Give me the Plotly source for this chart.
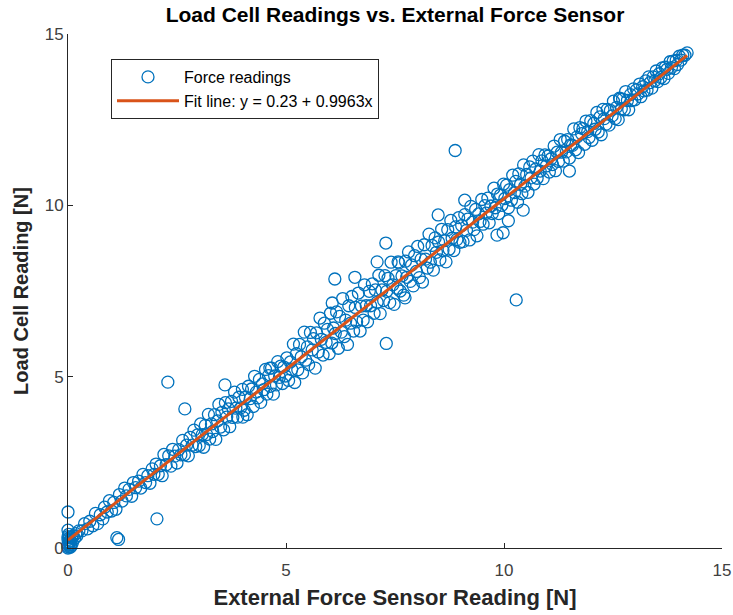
import plotly.graph_objects as go

# ---- data: (sensor reading, load cell reading) ----
force_points = [
    # cluster near the origin
    (0, 0.0), (0, 0.04), (0.01, 0.08), (0, 0.12), (0.02, 0.18), (0, 0.25), (0.03, 0.3), (0.05, 0.02),
    (0.06, 0.1), (0.04, 0.22), (0, 0.52), (0, 1.05), (0.08, 0.3), (0.1, 0.15), (0.12, 0.35), (0.02, 0.4),
    (0.15, 0.28), (0.18, 0.42), (0.2, 0.35), (0.25, 0.5), (0, 0.33), (0.07, 0.05), (0.03, 0.14),
    # 0.3 - 2
    (0.32, 0.5), (0.38, 0.71), (0.45, 0.56), (0.5, 0.78), (0.57, 0.65), (0.63, 1.01), (0.68, 0.71),
    (0.74, 0.97), (0.8, 0.85), (0.84, 1.19), (0.9, 1.05), (0.95, 1.38), (1.0, 1.08), (1.05, 1.33),
    (1.12, 0.3), (1.16, 0.25), (1.1, 1.13), (1.18, 1.56), (1.24, 1.37), (1.3, 1.75), (1.34, 1.52),
    (1.4, 1.71), (1.46, 1.51), (1.5, 1.91), (1.55, 1.76), (1.62, 1.95), (1.67, 1.75), (1.72, 2.15),
    (1.78, 1.91), (1.83, 2.11), (1.88, 1.89), (1.93, 2.31), (1.97, 2.15), (2.04, 0.85),
    # 2 - 3
    (2.02, 2.45), (2.07, 2.15), (2.12, 2.4), (2.16, 2.11), (2.2, 2.73), (2.25, 2.43), (2.29, 4.84),
    (2.31, 2.69), (2.36, 2.39), (2.4, 2.88), (2.45, 2.68), (2.5, 2.48), (2.54, 2.87), (2.59, 2.72),
    (2.63, 3.14), (2.68, 4.06), (2.67, 2.72), (2.72, 3.0), (2.76, 2.69), (2.8, 3.23), (2.85, 3.0),
    (2.89, 3.44), (2.93, 2.96), (2.97, 3.3),
    # 3 - 5
    (3.01, 2.99), (3.04, 3.62), (3.08, 3.31), (3.11, 2.94), (3.15, 3.58), (3.18, 3.31), (3.22, 3.9),
    (3.25, 3.18), (3.29, 3.62), (3.32, 3.4), (3.36, 3.89), (3.39, 3.17), (3.43, 3.71), (3.46, 4.19),
    (3.5, 3.53), (3.53, 3.96), (3.57, 3.45), (3.6, 4.76), (3.61, 4.24), (3.64, 3.82), (3.68, 4.06),
    (3.71, 3.54), (3.75, 4.28), (3.78, 3.81), (3.82, 4.55), (3.85, 4.08), (3.89, 3.82), (3.92, 4.4),
    (3.96, 4.09), (4.01, 3.82), (4.0, 4.63), (4.04, 4.02), (4.07, 4.4), (4.11, 3.89), (4.14, 4.72),
    (4.18, 4.36), (4.21, 4.64), (4.25, 4.13), (4.28, 5.01), (4.32, 4.55), (4.35, 4.38), (4.39, 4.92),
    (4.42, 4.25), (4.46, 4.79), (4.49, 4.62), (4.53, 5.21), (4.56, 4.49), (4.6, 5.03), (4.63, 5.25),
    (4.64, 4.72), (4.67, 5.25), (4.71, 4.49), (4.74, 5.02), (4.78, 4.76), (4.81, 5.44), (4.85, 4.98),
    (4.88, 5.31), (4.92, 4.8), (4.95, 5.28), (4.99, 5.02),
    # 5 - 7
    (5.02, 5.55), (5.06, 4.89), (5.1, 5.43), (5.13, 5.21), (5.17, 5.95), (5.2, 4.83), (5.24, 5.67),
    (5.27, 5.2), (5.31, 5.94), (5.35, 5.58), (5.38, 5.11), (5.42, 6.3), (5.45, 5.48), (5.49, 5.87),
    (5.52, 5.35), (5.56, 6.29), (5.6, 5.78), (5.63, 6.11), (5.67, 5.25), (5.7, 6.28), (5.74, 5.72),
    (5.78, 6.71), (5.81, 6.09), (5.85, 5.63), (5.88, 6.56), (5.92, 6.0), (5.95, 6.38), (5.99, 5.67),
    (6.02, 6.85), (6.06, 7.15), (6.05, 5.98), (6.09, 6.42), (6.12, 7.85), (6.13, 6.26), (6.16, 6.89),
    (6.2, 5.83), (6.23, 6.76), (6.27, 6.3), (6.3, 7.28), (6.34, 6.17), (6.37, 6.65), (6.41, 5.94),
    (6.44, 7.07), (6.48, 6.56), (6.51, 7.34), (6.55, 6.33), (6.58, 7.9), (6.59, 7.02), (6.62, 6.6),
    (6.66, 7.44), (6.7, 6.33), (6.73, 7.06), (6.77, 6.65), (6.8, 7.68), (6.84, 7.07), (6.87, 6.6),
    (6.91, 7.49), (6.94, 7.07), (6.98, 7.71),
    # 7 - 9
    (7.02, 6.85), (7.05, 7.53), (7.09, 8.35), (7.09, 7.17), (7.13, 7.96), (7.16, 6.84), (7.2, 7.53),
    (7.24, 7.22), (7.27, 7.95), (7.29, 8.9), (7.3, 5.97), (7.31, 7.49), (7.34, 7.87), (7.38, 7.16),
    (7.41, 8.34), (7.45, 7.68), (7.48, 7.11), (7.52, 7.95), (7.55, 7.58), (7.57, 8.35), (7.59, 8.32),
    (7.62, 7.5), (7.66, 7.94), (7.7, 7.38), (7.73, 7.3), (7.74, 8.37), (7.77, 7.9), (7.81, 8.64),
    (7.85, 7.78), (7.88, 8.26), (7.92, 7.65), (7.95, 8.53), (7.99, 8.07), (8.02, 8.8), (8.06, 7.89),
    (8.1, 8.43), (8.13, 7.76), (8.17, 8.85), (8.2, 8.43), (8.24, 8.17), (8.28, 9.16), (8.31, 8.34),
    (8.35, 8.83), (8.38, 8.11), (8.42, 9.05), (8.45, 8.63), (8.49, 9.72), (8.5, 8.93), (8.53, 8.41),
    (8.57, 9.3), (8.6, 8.68), (8.64, 8.97), (8.67, 8.35), (8.71, 9.29), (8.74, 8.72), (8.78, 9.56),
    (8.81, 9.04), (8.85, 8.68), (8.88, 11.6), (8.89, 9.37), (8.92, 9.0), (8.96, 9.64), (8.99, 8.92),
    # 9 - 11
    (9.03, 9.41), (9.06, 8.94), (9.1, 10.15), (9.1, 9.73), (9.14, 9.27), (9.17, 9.6), (9.21, 8.99),
    (9.24, 9.97), (9.28, 9.51), (9.31, 9.29), (9.35, 9.88), (9.38, 9.11), (9.42, 9.75), (9.45, 9.53),
    (9.49, 10.17), (9.52, 9.45), (9.56, 9.99), (9.59, 9.77), (9.63, 10.21), (9.66, 9.49), (9.7, 9.98),
    (9.73, 9.76), (9.77, 10.5), (9.8, 9.93), (9.84, 9.13), (9.85, 10.33), (9.88, 9.76), (9.92, 10.3),
    (9.95, 10.0), (9.98, 9.2), (9.99, 10.62), (10.02, 10.2), (10.06, 10.59), (10.1, 9.55), (10.1, 9.93),
    (10.13, 10.46), (10.17, 10.15), (10.2, 10.88), (10.24, 10.37), (10.28, 7.24), (10.27, 10.7),
    (10.31, 10.09), (10.34, 10.92), (10.38, 10.61), (10.41, 10.34), (10.44, 9.86), (10.45, 11.18),
    (10.48, 10.56), (10.52, 10.9), (10.55, 10.38), (10.59, 11.12), (10.62, 10.8), (10.66, 11.29),
    (10.69, 10.62), (10.73, 11.06), (10.76, 10.79), (10.8, 11.48), (10.83, 11.0), (10.87, 11.3),
    (10.9, 10.78), (10.94, 11.47), (10.97, 11.15),
    # 11 - 13
    (11.01, 11.44), (11.04, 10.97), (11.08, 11.36), (11.11, 11.19), (11.15, 11.73), (11.18, 11.01),
    (11.22, 11.55), (11.25, 11.28), (11.29, 11.92), (11.32, 11.55), (11.36, 11.29), (11.39, 11.87),
    (11.43, 11.56), (11.46, 11.92), (11.5, 11.0), (11.5, 11.38), (11.53, 11.76), (11.57, 11.75),
    (11.6, 12.23), (11.64, 11.62), (11.67, 11.99), (11.71, 11.54), (11.74, 12.27), (11.78, 12.09),
    (11.81, 12.24), (11.85, 11.78), (11.88, 12.46), (11.92, 12.15), (11.95, 11.98), (11.99, 12.47),
    (12.02, 11.9), (12.06, 12.39), (12.09, 12.22), (12.13, 12.71), (12.16, 12.14), (12.2, 12.58),
    (12.23, 12.06), (12.27, 12.8), (12.3, 12.53), (12.34, 12.37), (12.37, 12.8), (12.41, 12.34),
    (12.44, 12.77), (12.48, 12.61), (12.51, 13.04), (12.55, 12.53), (12.58, 12.86), (12.62, 12.5),
    (12.66, 13.1), (12.65, 13.13), (12.69, 12.82), (12.72, 13.1), (12.76, 12.79), (12.79, 13.32),
    (12.83, 13.06), (12.86, 12.79), (12.9, 13.23), (12.93, 13.06), (12.97, 13.4),
    # 13 - 14.2
    (13.0, 13.08), (13.04, 13.37), (13.07, 13.25), (13.11, 13.54), (13.14, 13.17), (13.18, 13.46),
    (13.21, 13.34), (13.25, 13.63), (13.28, 13.36), (13.32, 13.75), (13.35, 13.58), (13.39, 13.42),
    (13.42, 13.75), (13.46, 13.64), (13.49, 13.92), (13.53, 13.61), (13.56, 13.84), (13.6, 13.73),
    (13.63, 14.01), (13.67, 13.7), (13.7, 14.03), (13.74, 13.97), (13.77, 13.85), (13.81, 14.19),
    (13.84, 14.02), (13.88, 14.21), (13.91, 13.99), (13.95, 14.23), (13.98, 14.11), (14.02, 14.35),
    (14.06, 14.24), (14.1, 14.38), (14.15, 14.38), (14.2, 14.45),
]
sensor_x = [p[0] for p in force_points]
loadcell_y = [p[1] for p in force_points]

fit_intercept = 0.23
fit_slope = 0.9963
fit_x = [min(sensor_x), max(sensor_x)]
fit_y = [fit_intercept + fit_slope * v for v in fit_x]

tick_vals = [0, 5, 10, 15]
tick_text = ["0", "5", "10", "15"]

BLUE = "#0072BD"
ORANGE = "#D95319"
AX = "#262626"
FONT = "Liberation Sans, Arial, Helvetica, sans-serif"

fig = go.Figure()
fig.add_trace(go.Scatter(
    x=sensor_x, y=loadcell_y, mode="markers", name="Force readings",
    marker=dict(symbol="circle-open", size=12, color=BLUE, line=dict(width=1.3, color=BLUE)),
    cliponaxis=False,
))
fig.add_trace(go.Scatter(
    x=fit_x, y=fit_y, mode="lines",
    name=f"Fit line: y = {fit_intercept:.2f} + {fit_slope:.4f}x",
    line=dict(color=ORANGE, width=3),
    cliponaxis=False,
))

axis_common = dict(
    range=[0, 15], tickvals=tick_vals, ticktext=tick_text,
    showgrid=False, zeroline=False, showline=True, linecolor=AX, linewidth=1,
    ticks="inside", ticklen=5, tickcolor=AX, mirror=False, automargin=False,
    tickfont=dict(family=FONT, size=17, color="#404040"),
)

fig.update_layout(
    width=733, height=615,
    margin=dict(l=68, r=11, t=34, b=67),
    paper_bgcolor="white", plot_bgcolor="white",
    font=dict(family=FONT, color=AX),
    title=dict(text="<b>Load Cell Readings vs. External Force Sensor</b>",
               x=395 / 733, xanchor="center", y=1 - 15 / 615, yanchor="middle",
               font=dict(family=FONT, size=21, color="black")),
    xaxis=dict(axis_common, ticklabelstandoff=7,
               title=dict(text="<b>External Force Sensor Reading [N]</b>",
                          font=dict(family=FONT, size=22, color=AX), standoff=10)),
    yaxis=dict(axis_common,
               title=dict(text="<b>Load Cell Reading [N]</b>",
                          font=dict(family=FONT, size=20, color=AX), standoff=10)),
    legend=dict(x=(111 - 68) / 654, y=(548 - 59) / 514, xanchor="left", yanchor="top",
                bgcolor="white", bordercolor=AX, borderwidth=1,
                font=dict(family=FONT, size=16, color="black"),
                itemwidth=62, tracegroupgap=0),
    showlegend=True,
)

fig.write_html("out.html")
